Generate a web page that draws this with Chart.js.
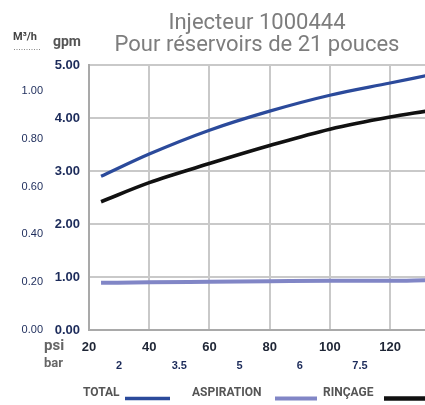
<!DOCTYPE html>
<html><head><meta charset="utf-8">
<script src="https://cdn.jsdelivr.net/npm/chart.js@4.4.1/dist/chart.umd.min.js"></script>
<style>html,body{margin:0;padding:0;background:#fff;overflow:hidden}#wrap{width:425px;height:405px;position:relative}</style>
</head><body><div id="wrap"><canvas id="c" width="425" height="405"></canvas></div>
<script>
const titleLines = ['Injecteur 1000444', 'Pour réservoirs de 21 pouces'];
const psi = [24, 40, 60, 80, 100, 120, 132];
const total = [2.90, 3.32, 3.77, 4.13, 4.43, 4.66, 4.80];
const aspiration = [0.89, 0.90, 0.91, 0.92, 0.93, 0.93, 0.94];
const rincage = [2.42, 2.78, 3.14, 3.48, 3.79, 4.02, 4.13];
const psiTicks = [20, 40, 60, 80, 100, 120];
const barTickPsi = [30, 50, 70, 90, 110];
const barTicks = ['2', '3.5', '5', '6', '7.5'];
const gpmTicks = [0, 1, 2, 3, 4, 5];
const m3hTicks = [0, 0.2, 0.4, 0.6, 0.8, 1.0];
const seriesNames = ['TOTAL', 'ASPIRATION', 'RINÇAGE'];
const seriesColors = ['#2b4a9b', '#8186c6', '#111111'];

const pts = arr => psi.map((x, i) => ({x, y: arr[i]}));
const NAVY = '#1c2b5a';

const extras = {
  id: 'extras',
  afterDraw(chart) {
    const ctx = chart.ctx;
    ctx.save();
    ctx.textBaseline = 'middle';
    ctx.textAlign = 'left';
    ctx.fillStyle = '#444';
    ctx.font = 'bold 11px Roboto';
    ctx.fillText('M³/h', 13, 37, 27);
    ctx.strokeStyle = '#888';
    ctx.lineWidth = 1;
    ctx.setLineDash([1, 1.5]);
    ctx.beginPath(); ctx.moveTo(14, 49.5); ctx.lineTo(40, 49.5); ctx.stroke();
    ctx.setLineDash([]);
    ctx.fillStyle = '#555';
    ctx.font = 'bold 14px Roboto';
    ctx.fillText('gpm', 53, 42, 31);
    ctx.fillStyle = '#666';
    ctx.font = 'bold 15px Roboto';
    ctx.fillText('psi', 44, 346, 21);
    ctx.font = 'bold 13px Roboto';
    ctx.fillText('bar', 44, 364, 20);
    const items = [
      {tx: 83, tw: 37, l1: 125, l2: 170, lw: 3.5},
      {tx: 192, tw: 75, l1: 275, l2: 317, lw: 4},
      {tx: 323, tw: 55, l1: 384, l2: 425, lw: 4.5}
    ];
    ctx.font = 'bold 12px Roboto';
    items.forEach((it, i) => {
      ctx.fillStyle = '#555';
      ctx.fillText(seriesNames[i], it.tx, 393, it.tw);
      ctx.strokeStyle = chart.data.datasets[i].borderColor;
      ctx.lineWidth = it.lw;
      ctx.beginPath(); ctx.moveTo(it.l1, 398.5); ctx.lineTo(it.l2, 398.5); ctx.stroke();
    });
    ctx.restore();
  }
};

new Chart(document.getElementById('c'), {
  type: 'line',
  data: {
    datasets: [
      {label: seriesNames[0], data: pts(total), borderColor: seriesColors[0], borderWidth: 3.2},
      {label: seriesNames[1], data: pts(aspiration), borderColor: seriesColors[1], borderWidth: 4},
      {label: seriesNames[2], data: pts(rincage), borderColor: seriesColors[2], borderWidth: 3.6}
    ]
  },
  options: {
    responsive: false,
    animation: false,
    events: [],
    elements: {point: {radius: 0}, line: {cubicInterpolationMode: 'monotone', fill: false}},
    layout: {padding: {top: 0, left: 0, right: 0, bottom: 30}},
    plugins: {
      legend: {display: false},
      tooltip: {enabled: false},
      title: {
        display: true, text: titleLines, fullSize: false, color: '#7d7d7d',
        font: {family: 'Roboto', size: 22, weight: 'normal', lineHeight: 1.0},
        padding: {top: 12, bottom: 9}
      }
    },
    scales: {
      x: {
        type: 'linear', position: 'bottom', min: 20, max: 131.6, weight: 0,
        afterBuildTicks: s => { s.ticks = psiTicks.map(v => ({value: v})); },
        afterFit: s => { s.height = 26; },
        grid: {color: '#c9c9c9', lineWidth: 2, drawTicks: false},
        border: {color: '#a9a9a9', width: 2},
        ticks: {padding: 10, color: '#1e2535', font: {family: 'Liberation Sans', size: 13, weight: 'bold'}, callback: v => String(v)}
      },
      x2: {
        type: 'linear', position: 'bottom', min: 20, max: 131.6, weight: 1,
        afterBuildTicks: s => { s.ticks = barTickPsi.map(v => ({value: v})); },
        afterFit: s => { s.height = 19; },
        grid: {display: false, drawTicks: false},
        border: {display: false},
        ticks: {padding: 3, color: NAVY, font: {family: 'Liberation Sans', size: 11, weight: 'bold'}, callback: (v, i) => barTicks[i]}
      },
      y: {
        type: 'linear', position: 'left', min: 0, max: 5, weight: 0,
        afterBuildTicks: s => { s.ticks = gpmTicks.map(v => ({value: v})); },
        afterFit: s => { s.width = 42; },
        grid: {color: '#c9c9c9', lineWidth: 2, drawTicks: false},
        border: {color: '#a9a9a9', width: 2},
        ticks: {padding: 9, color: NAVY, font: {family: 'Liberation Sans', size: 13, weight: 'bold'}, callback: v => v.toFixed(2)}
      },
      y2: {
        type: 'linear', position: 'left', min: 0, max: 1.109, weight: 1,
        afterBuildTicks: s => { s.ticks = m3hTicks.map(v => ({value: v})); },
        afterFit: s => { s.width = 47; },
        grid: {display: false, drawTicks: false},
        border: {display: false},
        ticks: {padding: 4, color: NAVY, font: {family: 'Liberation Sans', size: 11}, callback: v => v.toFixed(2)}
      }
    }
  },
  plugins: [extras]
});
</script></body></html>
